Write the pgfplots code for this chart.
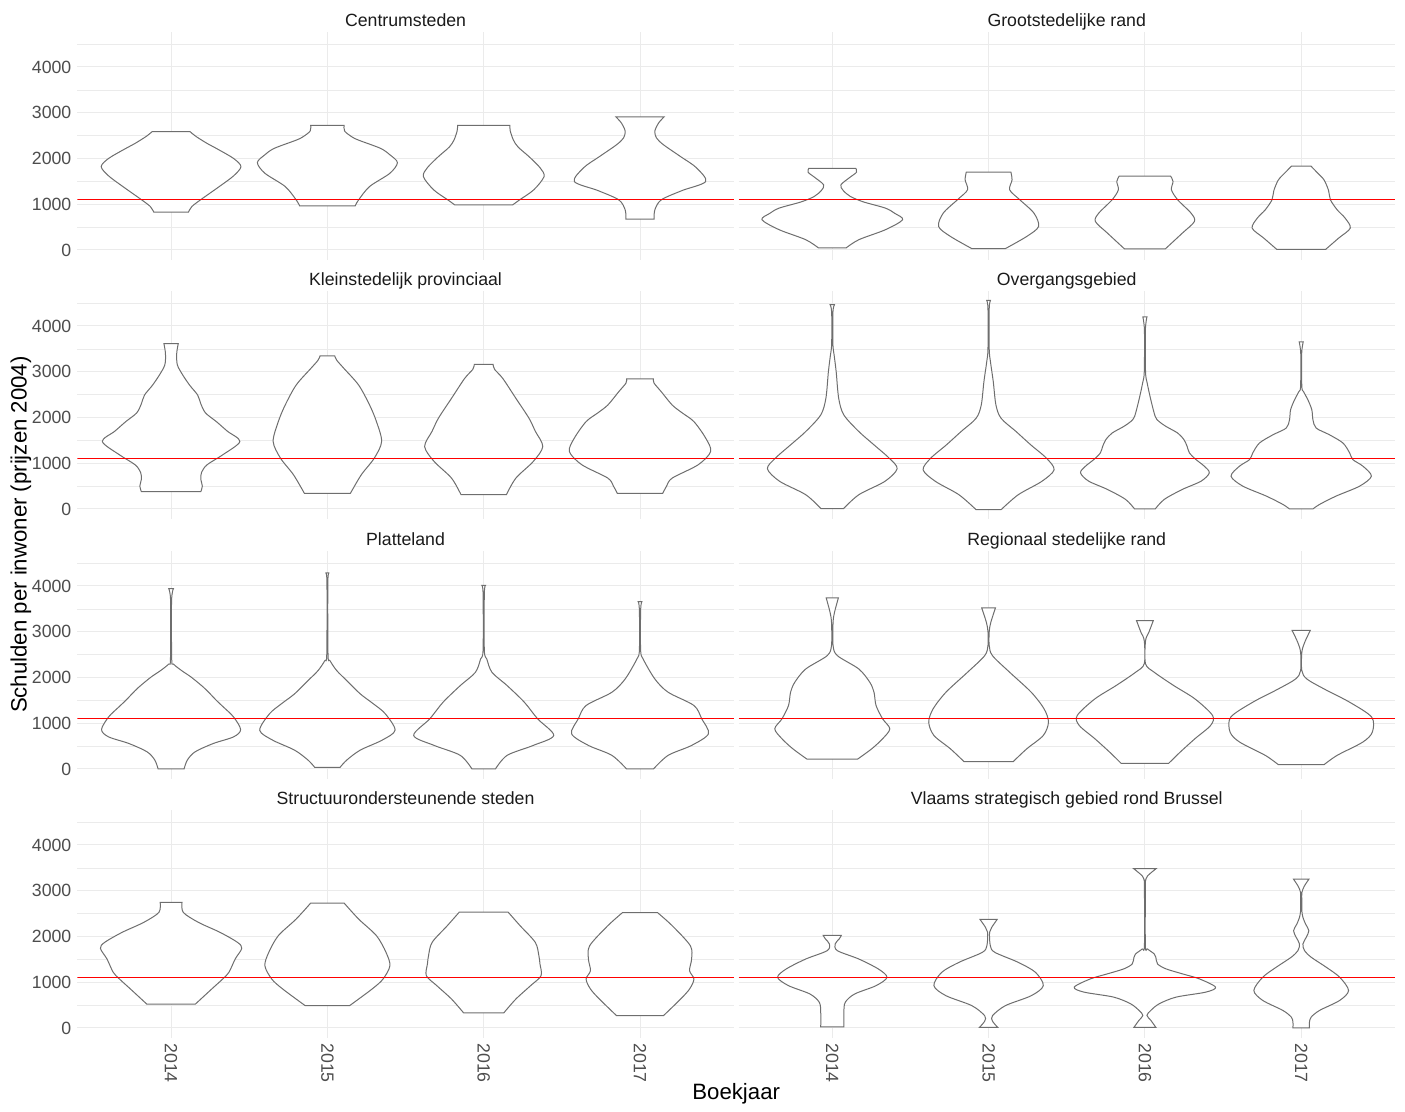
\documentclass[border=0pt]{standalone}
\usepackage{pgfplots}
\pgfplotsset{compat=1.18}
\usepgfplotslibrary{fillbetween}
\usepackage{fontspec}
\setmainfont{Liberation Sans}
\definecolor{tickgray}{HTML}{4D4D4D}
\definecolor{striptext}{HTML}{1A1A1A}
\definecolor{viogray}{HTML}{6E6E6E}
\definecolor{gridc}{HTML}{EBEBEB}

\pgfplotsset{
 panel/.style={
  scale only axis, width=328.25pt, height=114.05pt,
  xmin=0.4, xmax=4.6, ymin=-212, ymax=4773,
  axis line style={draw=none},
  major tick length=0pt, minor tick length=0pt,
  tick style={draw=none},
  xtick={1,2,3,4}, ytick={0,1000,2000,3000,4000},
  minor ytick={500,1500,2500,3500,4500},
  xmajorgrids, ymajorgrids, yminorgrids,
  major grid style={draw=gridc, line width=0.5pt},
  minor grid style={draw=gridc, line width=0.3pt},
  xticklabels={}, yticklabels={},
  tick label style={font=\fontsize{8.85}{10}\selectfont, text=tickgray},
  yticklabel style={anchor=east, inner sep=0pt, xshift=-2.8pt},
  xticklabel style={yshift=-2.65pt, rotate=-90, anchor=west, inner sep=0pt},
  title style={at={(0.5,1)}, anchor=base, yshift=-3.5pt, inner sep=0pt,
    font=\fontsize{8.85}{10}\selectfont, text=striptext},
  set layers,
 },
 vio/.style={draw=viogray, line width=0.5pt, fill=white},
 ylab/.style={yticklabels={0,1000,2000,3000,4000}},
 xlab/.style={xticklabels={2014,2015,2016,2017}},
}

% #1 category position, #2 unique id, #3 rows "y halfwidth \\"
\newcommand{\vio}[3]{%
 \addplot[draw=none, smooth, tension=0.5, name path=R#2] table[row sep=\\, header=false, x expr={#1+\thisrowno{1}}, y index=0] {#3};
 \addplot[draw=none, smooth, tension=0.5, name path=L#2] table[row sep=\\, header=false, x expr={#1-\thisrowno{1}}, y index=0] {#3};
 \addplot[vio] fill between[of=R#2 and L#2, reverse=true];
}
\newcommand{\refline}{\addplot[red, line width=0.75pt] coordinates {(0.4,1108) (4.6,1108)};}

\begin{document}
\begin{tikzpicture}
\path (0,0) rectangle (702.5pt,555.5pt);

% ---------- Row 1 left: Centrumsteden
\begin{axis}[panel, ylab, at={(38.65pt,425.65pt)}, anchor=south west, title={Centrumsteden}]
\vio{1}{a1}{828 0.111 \\ 950 0.133 \\ 1100 0.19 \\ 1390 0.31 \\ 1620 0.40 \\ 1822 0.447 \\ 2000 0.40 \\ 2200 0.30 \\ 2330 0.23 \\ 2480 0.16 \\ 2584 0.122 \\}
\vio{2}{a2}{966 0.178 \\ 1096 0.2 \\ 1387 0.27 \\ 1677 0.4 \\ 1909 0.448 \\ 2080 0.40 \\ 2221 0.34 \\ 2400 0.2 \\ 2476 0.155 \\ 2600 0.11 \\ 2722 0.107 \\}
\vio{3}{a3}{987 0.186 \\ 1096 0.23 \\ 1314 0.32 \\ 1604 0.386 \\ 1800 0.36 \\ 2040 0.29 \\ 2250 0.22 \\ 2403 0.19 \\ 2600 0.17 \\ 2722 0.167 \\}
\vio{4}{a4}{675 0.09 \\ 878 0.095 \\ 1096 0.136 \\ 1300 0.27 \\ 1496 0.42 \\ 1800 0.36 \\ 2040 0.26 \\ 2300 0.15 \\ 2450 0.105 \\ 2600 0.095 \\ 2780 0.12 \\ 2911 0.155 \\}
\refline
\end{axis}

% ---------- Row 1 right: Grootstedelijke rand
\begin{axis}[panel, at={(369.25pt,425.65pt)}, anchor=south west, title={Grootstedelijke rand}]
\vio{1}{b1}{44 0.088 \\ 225 0.17 \\ 443 0.34 \\ 661 0.45 \\ 800 0.40 \\ 915 0.34 \\ 1050 0.20 \\ 1169 0.116 \\ 1300 0.07 \\ 1423 0.055 \\ 1580 0.11 \\ 1700 0.155 \\ 1786 0.15 \\}
\vio{2}{b2}{29 0.107 \\ 298 0.245 \\ 515 0.32 \\ 806 0.29 \\ 1096 0.2 \\ 1314 0.135 \\ 1532 0.15 \\ 1699 0.143 \\}
\vio{3}{b3}{22 0.13 \\ 370 0.24 \\ 624 0.317 \\ 806 0.295 \\ 1096 0.21 \\ 1314 0.17 \\ 1496 0.18 \\ 1612 0.165 \\}
\vio{4}{b4}{15 0.157 \\ 261 0.24 \\ 479 0.314 \\ 700 0.28 \\ 878 0.23 \\ 1096 0.187 \\ 1300 0.175 \\ 1532 0.146 \\ 1700 0.10 \\ 1830 0.063 \\}
\refline
\end{axis}

% ---------- Row 2 left: Kleinstedelijk provinciaal
\begin{axis}[panel, ylab, at={(38.65pt,296.15pt)}, anchor=south west, title={Kleinstedelijk provinciaal}]
\vio{1}{c1}{378 0.19 \\ 500 0.2 \\ 650 0.19 \\ 800 0.195 \\ 966 0.23 \\ 1183 0.33 \\ 1474 0.44 \\ 1700 0.36 \\ 1909 0.29 \\ 2100 0.22 \\ 2300 0.19 \\ 2490 0.17 \\ 2700 0.12 \\ 2926 0.075 \\ 3150 0.04 \\ 3400 0.036 \\ 3615 0.046 \\}
\vio{2}{c2}{341 0.147 \\ 748 0.217 \\ 1111 0.3 \\ 1474 0.347 \\ 1909 0.314 \\ 2272 0.27 \\ 2708 0.2 \\ 3071 0.106 \\ 3250 0.06 \\ 3347 0.047 \\}
\vio{3}{c3}{312 0.145 \\ 675 0.206 \\ 1038 0.317 \\ 1365 0.378 \\ 1700 0.33 \\ 1982 0.29 \\ 2418 0.206 \\ 2853 0.122 \\ 3050 0.07 \\ 3158 0.06 \\}
\vio{4}{c4}{341 0.145 \\ 500 0.17 \\ 675 0.206 \\ 966 0.372 \\ 1256 0.452 \\ 1550 0.42 \\ 1909 0.345 \\ 2100 0.27 \\ 2272 0.206 \\ 2563 0.136 \\ 2750 0.09 \\ 2846 0.085 \\}
\refline
\end{axis}

% ---------- Row 2 right: Overgangsgebied
\begin{axis}[panel, at={(369.25pt,296.15pt)}, anchor=south west, title={Overgangsgebied}]
\vio{1}{d1}{7 0.072 \\ 312 0.17 \\ 603 0.336 \\ 878 0.415 \\ 1111 0.364 \\ 1401 0.267 \\ 1692 0.17 \\ 2055 0.074 \\ 2418 0.041 \\ 2998 0.025 \\ 3361 0.012 \\ 3600 0.004 \\ 4300 0.004 \\ 4465 0.014 \\}
\vio{2}{d2}{-15 0.08 \\ 312 0.19 \\ 603 0.34 \\ 857 0.419 \\ 1111 0.37 \\ 1401 0.27 \\ 1692 0.176 \\ 1982 0.08 \\ 2272 0.047 \\ 2781 0.03 \\ 3216 0.012 \\ 3500 0.004 \\ 4380 0.004 \\ 4559 0.012 \\}
\vio{3}{d3}{0 0.066 \\ 210 0.124 \\ 428 0.24 \\ 609 0.36 \\ 790 0.412 \\ 935 0.38 \\ 1080 0.327 \\ 1225 0.285 \\ 1370 0.27 \\ 1514 0.25 \\ 1659 0.21 \\ 1804 0.135 \\ 1913 0.09 \\ 2022 0.066 \\ 2384 0.038 \\ 2746 0.015 \\ 3000 0.004 \\ 3906 0.003 \\ 4196 0.013 \\}
\vio{4}{d4}{0 0.075 \\ 101 0.118 \\ 283 0.224 \\ 500 0.374 \\ 717 0.449 \\ 935 0.395 \\ 1080 0.33 \\ 1225 0.31 \\ 1442 0.267 \\ 1623 0.18 \\ 1768 0.096 \\ 1949 0.075 \\ 2167 0.068 \\ 2384 0.043 \\ 2565 0.015 \\ 2674 0.004 \\ 3399 0.003 \\ 3652 0.013 \\}
\refline
\end{axis}

% ---------- Row 3 left: Platteland
\begin{axis}[panel, ylab, at={(38.65pt,166.15pt)}, anchor=south west, title={Platteland}]
\vio{1}{e1}{0 0.083 \\ 195 0.104 \\ 376 0.154 \\ 557 0.27 \\ 702 0.4 \\ 861 0.445 \\ 1136 0.4 \\ 1353 0.335 \\ 1498 0.29 \\ 1642 0.25 \\ 1787 0.207 \\ 2004 0.13 \\ 2149 0.068 \\ 2294 0.015 \\ 2402 0.004 \\ 3668 0.003 \\ 3943 0.015 \\}
\vio{2}{e2}{36 0.081 \\ 195 0.124 \\ 412 0.21 \\ 630 0.35 \\ 847 0.433 \\ 1208 0.37 \\ 1425 0.294 \\ 1642 0.21 \\ 1932 0.124 \\ 2149 0.06 \\ 2366 0.017 \\ 2511 0.004 \\ 4100 0.003 \\ 4284 0.013 \\}
\vio{3}{e3}{0 0.075 \\ 298 0.15 \\ 515 0.317 \\ 733 0.448 \\ 1096 0.345 \\ 1459 0.26 \\ 1822 0.15 \\ 2113 0.053 \\ 2403 0.02 \\ 2600 0.004 \\ 3830 0.004 \\ 4015 0.012 \\}
\vio{4}{e4}{0 0.086 \\ 298 0.18 \\ 515 0.33 \\ 770 0.438 \\ 1096 0.395 \\ 1387 0.345 \\ 1677 0.18 \\ 1967 0.095 \\ 2403 0.02 \\ 2600 0.004 \\ 3480 0.004 \\ 3659 0.012 \\}
\refline
\end{axis}

% ---------- Row 3 right: Regionaal stedelijke rand
\begin{axis}[panel, at={(369.25pt,166.15pt)}, anchor=south west, title={Regionaal stedelijke rand}]
\vio{1}{f1}{218 0.163 \\ 443 0.253 \\ 661 0.322 \\ 878 0.368 \\ 1096 0.322 \\ 1387 0.28 \\ 1677 0.267 \\ 1895 0.24 \\ 2185 0.17 \\ 2476 0.033 \\ 2700 0.005 \\ 3200 0.005 \\ 3420 0.014 \\ 3739 0.039 \\}
\vio{2}{f2}{160 0.157 \\ 443 0.245 \\ 733 0.35 \\ 1024 0.383 \\ 1314 0.355 \\ 1677 0.273 \\ 2113 0.135 \\ 2476 0.025 \\ 2700 0.004 \\ 3000 0.004 \\ 3202 0.014 \\ 3521 0.044 \\}
\vio{3}{f3}{123 0.152 \\ 370 0.226 \\ 661 0.32 \\ 951 0.42 \\ 1169 0.433 \\ 1532 0.32 \\ 1822 0.185 \\ 2113 0.06 \\ 2300 0.004 \\ 2800 0.004 \\ 2984 0.025 \\ 3245 0.054 \\}
\vio{4}{f4}{94 0.146 \\ 298 0.23 \\ 588 0.394 \\ 806 0.455 \\ 1133 0.451 \\ 1459 0.31 \\ 1750 0.146 \\ 1967 0.036 \\ 2150 0.004 \\ 2550 0.004 \\ 2766 0.022 \\ 3027 0.058 \\}
\refline
\end{axis}

% ---------- Row 4 left: Structuurondersteunende steden
\begin{axis}[panel, ylab, xlab, at={(38.65pt,36.65pt)}, anchor=south west, title={Structuurondersteunende steden}]
\vio{1}{g1}{524 0.156 \\ 852 0.26 \\ 1070 0.33 \\ 1216 0.37 \\ 1507 0.41 \\ 1740 0.452 \\ 1871 0.425 \\ 2089 0.314 \\ 2308 0.175 \\ 2526 0.078 \\ 2744 0.07 \\}
\vio{2}{g2}{488 0.142 \\ 852 0.286 \\ 1070 0.356 \\ 1361 0.4 \\ 1653 0.375 \\ 2017 0.314 \\ 2380 0.2 \\ 2730 0.107 \\}
\vio{3}{g3}{328 0.128 \\ 633 0.206 \\ 925 0.3 \\ 1143 0.367 \\ 1400 0.36 \\ 1580 0.353 \\ 1871 0.33 \\ 2235 0.233 \\ 2533 0.156 \\}
\vio{4}{g4}{269 0.15 \\ 633 0.26 \\ 852 0.317 \\ 1070 0.345 \\ 1252 0.317 \\ 1507 0.33 \\ 1798 0.322 \\ 2235 0.206 \\ 2519 0.113 \\}
\refline
\end{axis}

% ---------- Row 4 right: Vlaams strategisch gebied rond Brussel
\begin{axis}[panel, xlab, at={(369.25pt,36.65pt)}, anchor=south west, title={Vlaams strategisch gebied rond Brussel}]
\vio{1}{h1}{22 0.074 \\ 342 0.074 \\ 561 0.083 \\ 743 0.143 \\ 925 0.28 \\ 1107 0.35 \\ 1289 0.295 \\ 1507 0.17 \\ 1689 0.033 \\ 1834 0.018 \\ 1950 0.045 \\ 2024 0.058 \\}
\vio{2}{h2}{15 0.058 \\ 150 0.025 \\ 269 0.025 \\ 488 0.107 \\ 706 0.273 \\ 925 0.35 \\ 1216 0.3 \\ 1434 0.19 \\ 1653 0.04 \\ 1798 0.011 \\ 2089 0.006 \\ 2200 0.02 \\ 2373 0.055 \\}
\vio{3}{h3}{15 0.07 \\ 167 0.038 \\ 276 0.013 \\ 385 0.038 \\ 530 0.092 \\ 675 0.2 \\ 784 0.39 \\ 893 0.452 \\ 1074 0.348 \\ 1183 0.24 \\ 1292 0.135 \\ 1400 0.081 \\ 1546 0.07 \\ 1618 0.06 \\ 1727 0.017 \\ 1800 0.003 \\ 3142 0.003 \\ 3215 0.004 \\ 3324 0.017 \\ 3483 0.072 \\}
\vio{4}{h4}{0 0.053 \\ 131 0.053 \\ 240 0.064 \\ 385 0.118 \\ 602 0.246 \\ 820 0.303 \\ 1110 0.246 \\ 1328 0.16 \\ 1546 0.064 \\ 1691 0.021 \\ 1836 0.011 \\ 1981 0.032 \\ 2126 0.049 \\ 2271 0.028 \\ 2417 0.011 \\ 2562 0.004 \\ 2780 0.004 \\ 2961 0.004 \\ 3100 0.02 \\ 3251 0.049 \\}
\refline
\end{axis}

\node[rotate=90, anchor=base, font=\fontsize{11.1}{13}\selectfont] at (13.35pt,288.2pt) {Schulden per inwoner (prijzen 2004)};
\node[anchor=base, font=\fontsize{11.1}{13}\selectfont] at (368.1pt,5.5pt) {Boekjaar};
\end{tikzpicture}
\end{document}
